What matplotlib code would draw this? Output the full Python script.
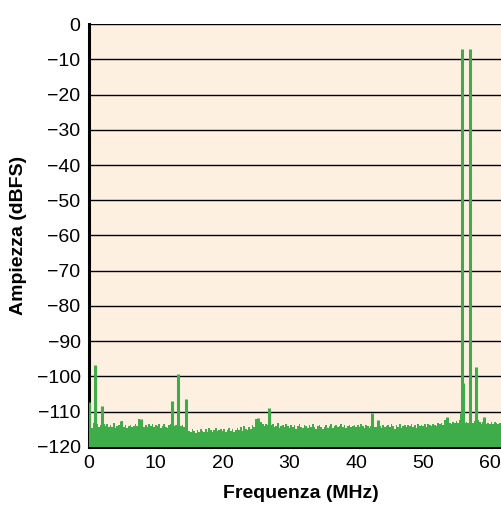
import numpy as np
import matplotlib
matplotlib.use("Agg")
import matplotlib.pyplot as plt

plt.rcParams.update({
    "font.family": ["Liberation Sans Narrow", "Liberation Sans", "DejaVu Sans"],
})

# noise floor, one value every 0.25 MHz starting at 0 MHz (dBFS)
noise_step = 0.25
noise_level = [
    -113.2, -113.8, -114.6, -113.1, -114.0, -113.5, -114.3, -113.7, -114.1, -113.4,
    -114.2, -113.6, -114.5, -113.9, -114.3, -113.2, -114.6, -114.0, -113.7, -114.4,
    -112.6, -114.3, -113.9, -114.6, -114.1, -113.8, -114.5, -114.0, -113.6, -114.2,
    -112.2, -114.0, -113.5, -114.3, -113.8, -114.5, -113.4, -114.1, -113.6, -114.4,
    -113.7, -114.2, -113.5, -114.6, -114.0, -113.4, -114.3, -114.7, -113.9, -113.6,
    -113.2, -114.0, -113.7, -114.3, -113.5, -114.1, -113.8, -114.5, -114.2, -113.9,
    -115.4, -115.8, -114.9, -115.6, -116.0, -115.2, -115.7, -114.8, -115.5, -115.9,
    -115.0, -115.7, -114.6, -115.3, -115.9, -115.1, -114.7, -115.6, -115.2, -114.8,
    -115.6, -114.9, -115.8, -115.3, -114.7, -115.5, -115.0, -115.9, -115.2, -114.6,
    -115.1, -114.5, -115.4, -114.2, -114.9, -115.3, -114.4, -114.8, -113.9, -114.3,
    -112.0, -113.8, -114.2, -113.0, -113.6, -114.1, -113.4, -113.9, -114.3, -113.7,
    -113.5, -114.4, -114.0, -113.3, -114.6, -114.1, -113.8, -114.5, -113.6, -114.2,
    -114.6, -113.9, -114.3, -113.7, -114.8, -114.1, -113.5, -114.4, -114.7, -113.8,
    -114.2, -114.7, -113.9, -114.5, -113.6, -114.3, -114.8, -114.0, -113.7, -114.4,
    -114.9, -114.3, -113.8, -114.6, -114.1, -113.5, -114.7, -114.2, -113.9, -114.5,
    -114.0, -113.6, -114.4, -113.8, -114.6, -114.2, -113.7, -114.5, -114.0, -113.9,
    -114.3, -113.8, -114.5, -113.6, -114.1, -114.6, -113.9, -114.2, -114.7, -114.0,
    -113.7, -114.3, -114.5, -113.9, -114.2, -114.6, -113.8, -114.4, -114.1, -113.7,
    -114.5, -113.6, -114.2, -114.8, -113.9, -114.3, -113.5, -114.6, -114.0, -113.8,
    -114.4, -113.7, -114.1, -113.5, -114.3, -113.9, -114.6, -113.6, -114.2, -113.8,
    -114.0, -113.6, -114.3, -113.4, -113.9, -114.2, -113.5, -113.8, -114.1, -113.3,
    -113.6, -113.2, -113.9, -112.5, -113.4, -113.7, -113.1, -113.5, -112.9, -113.3,
    -112.8, -113.2, -112.4, -113.0, -112.7, -113.3, -112.9, -113.1, -112.6, -113.0,
    -113.2, -112.8, -113.4, -112.3, -113.0, -113.5, -112.9, -113.3, -113.6, -113.1,
    -113.4, -113.0, -113.6, -112.9, -113.3, -113.5, -113.1, -113.7, -113.2, -113.4,
    -113.6, -113.1, -113.8, -113.3, -113.5,
]

# tones and spurs (MHz, dBFS)
spur_freq = [0.0, 0.85, 1.9, 4.8, 7.8, 12.4, 13.3, 14.5, 25.3, 26.9,
             42.4, 43.3, 53.5, 55.6, 55.8, 56.0, 57.0, 57.9, 59.1]
spur_level = [-107.4, -96.8, -108.5, -112.6, -112.0, -107.0, -99.3, -106.5, -111.8, -109.0,
              -110.4, -112.3, -111.5, -110.5, -7.1, -101.8, -7.1, -97.3, -111.5]

x_ticks = [0, 10, 20, 30, 40, 50, 60]
y_ticks = [0, -10, -20, -30, -40, -50, -60, -70, -80, -90, -100, -110, -120]

BG = "#FEF0E1"
GREEN = "#3FAC4A"

fig = plt.figure(figsize=(5.02, 5.13), dpi=100)
ax = fig.add_axes([0.177, 0.129, 0.843, 0.824])
ax.set_facecolor(BG)

freq = np.arange(len(noise_level)) * noise_step
ax.fill_between(freq, -120, noise_level, step="mid", color=GREEN, linewidth=0, zorder=3)
ax.vlines(spur_freq, -120, spur_level, color=GREEN, linewidth=2.2, zorder=3)

ax.set_xlim(0, 63.3)
ax.set_ylim(-120, 0)
ax.set_xticks(x_ticks)
ax.set_yticks(y_ticks)
ax.set_yticklabels([str(v).replace("-", "\u2212") for v in y_ticks])
ax.tick_params(length=0, labelsize=14, pad=6)
ax.yaxis.grid(True, color="black", linewidth=1.0, zorder=1)
ax.set_axisbelow(True)

for side in ("top", "right"):
    ax.spines[side].set_visible(False)
ax.spines["left"].set_linewidth(2.2)
ax.spines["bottom"].set_linewidth(2.2)

ax.set_xlabel("Frequenza (MHz)", fontsize=14, fontweight="bold", labelpad=9)
ax.set_ylabel("Ampiezza (dBFS)", fontsize=14, fontweight="bold", labelpad=7)

fig.savefig("out.png", dpi=100)
